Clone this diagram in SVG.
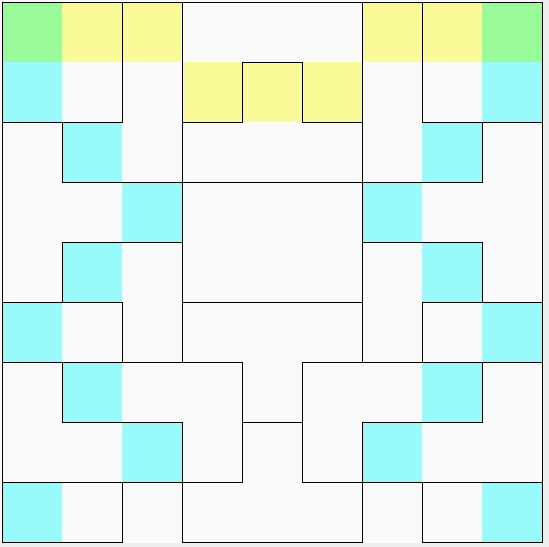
<svg xmlns="http://www.w3.org/2000/svg" width="549" height="547" viewBox="0 0 549 547">
<style>
.g{fill:#98fb98}.y{fill:#fafa98}.c{fill:#98fafa}
.ln{fill:none;stroke:#000;stroke-width:1;stroke-linecap:square}
</style>
<rect x="0" y="0" width="549" height="547" fill="#eeeeee"/>
<rect x="0" y="0" width="543" height="543" fill="#fafafa"/>
<g id="cells">
<g id="r-top-left"><rect class="g" x="2" y="2" width="60" height="60"/><rect class="y" x="62" y="2" width="60" height="60"/><rect class="c" x="2" y="62" width="60" height="60"/></g>
<g id="r-top-left2"><rect class="y" x="122" y="2" width="60" height="60"/><rect class="c" x="62" y="122" width="60" height="60"/></g>
<g id="r-top-mid"><rect class="y" x="182" y="62" width="60" height="60"/><rect class="y" x="302" y="62" width="60" height="60"/></g>
<g id="r-top-mid2"><rect class="y" x="242" y="62" width="60" height="60"/></g>
<g id="r-top-right2"><rect class="y" x="362" y="2" width="60" height="60"/><rect class="c" x="422" y="122" width="60" height="60"/></g>
<g id="r-top-right"><rect class="y" x="422" y="2" width="60" height="60"/><rect class="g" x="482" y="2" width="60" height="60"/><rect class="c" x="482" y="62" width="60" height="60"/></g>
<g id="r-left-1"><rect class="c" x="122" y="182" width="60" height="60"/></g>
<g id="r-left-2"><rect class="c" x="62" y="242" width="60" height="60"/></g>
<g id="r-left-3"><rect class="c" x="2" y="302" width="60" height="60"/></g>
<g id="r-right-1"><rect class="c" x="362" y="182" width="60" height="60"/></g>
<g id="r-right-2"><rect class="c" x="422" y="242" width="60" height="60"/></g>
<g id="r-right-3"><rect class="c" x="482" y="302" width="60" height="60"/></g>
<g id="r-left-4"><rect class="c" x="62" y="362" width="60" height="60"/></g>
<g id="r-left-5"><rect class="c" x="122" y="422" width="60" height="60"/></g>
<g id="r-left-6"><rect class="c" x="2" y="482" width="60" height="60"/></g>
<g id="r-right-4"><rect class="c" x="422" y="362" width="60" height="60"/></g>
<g id="r-right-5"><rect class="c" x="362" y="422" width="60" height="60"/></g>
<g id="r-right-6"><rect class="c" x="482" y="482" width="60" height="60"/></g>
</g>
<g id="connectors">
<path class="ln" d="M2.5 2.5H542.5M2.5 2.5V542.5M542.5 2.5V542.5M2.5 542.5H122.5M182.5 542.5H362.5M422.5 542.5H542.5
M122.5 2.5V122.5M2.5 122.5H122.5M62.5 122.5V182.5M62.5 182.5H482.5M182.5 2.5V362.5M62.5 242.5H182.5M62.5 242.5V302.5
M2.5 302.5H122.5M122.5 302.5V362.5M2.5 362.5H242.5M62.5 362.5V422.5M62.5 422.5H182.5M182.5 422.5V542.5M2.5 482.5H242.5
M122.5 482.5V542.5M242.5 362.5V482.5
M182.5 302.5H362.5M242.5 62.5V122.5M242.5 62.5H302.5M302.5 62.5V122.5M182.5 122.5H242.5M302.5 122.5H362.5M242.5 422.5H302.5M302.5 362.5V482.5
M422.5 2.5V122.5M422.5 122.5H542.5M482.5 122.5V182.5M362.5 2.5V362.5M362.5 422.5V542.5M362.5 242.5H482.5M482.5 242.5V302.5
M422.5 302.5H542.5M422.5 302.5V362.5M302.5 362.5H542.5M482.5 362.5V422.5M362.5 422.5H482.5M302.5 482.5H542.5M422.5 482.5V542.5"/>
</g>
</svg>
